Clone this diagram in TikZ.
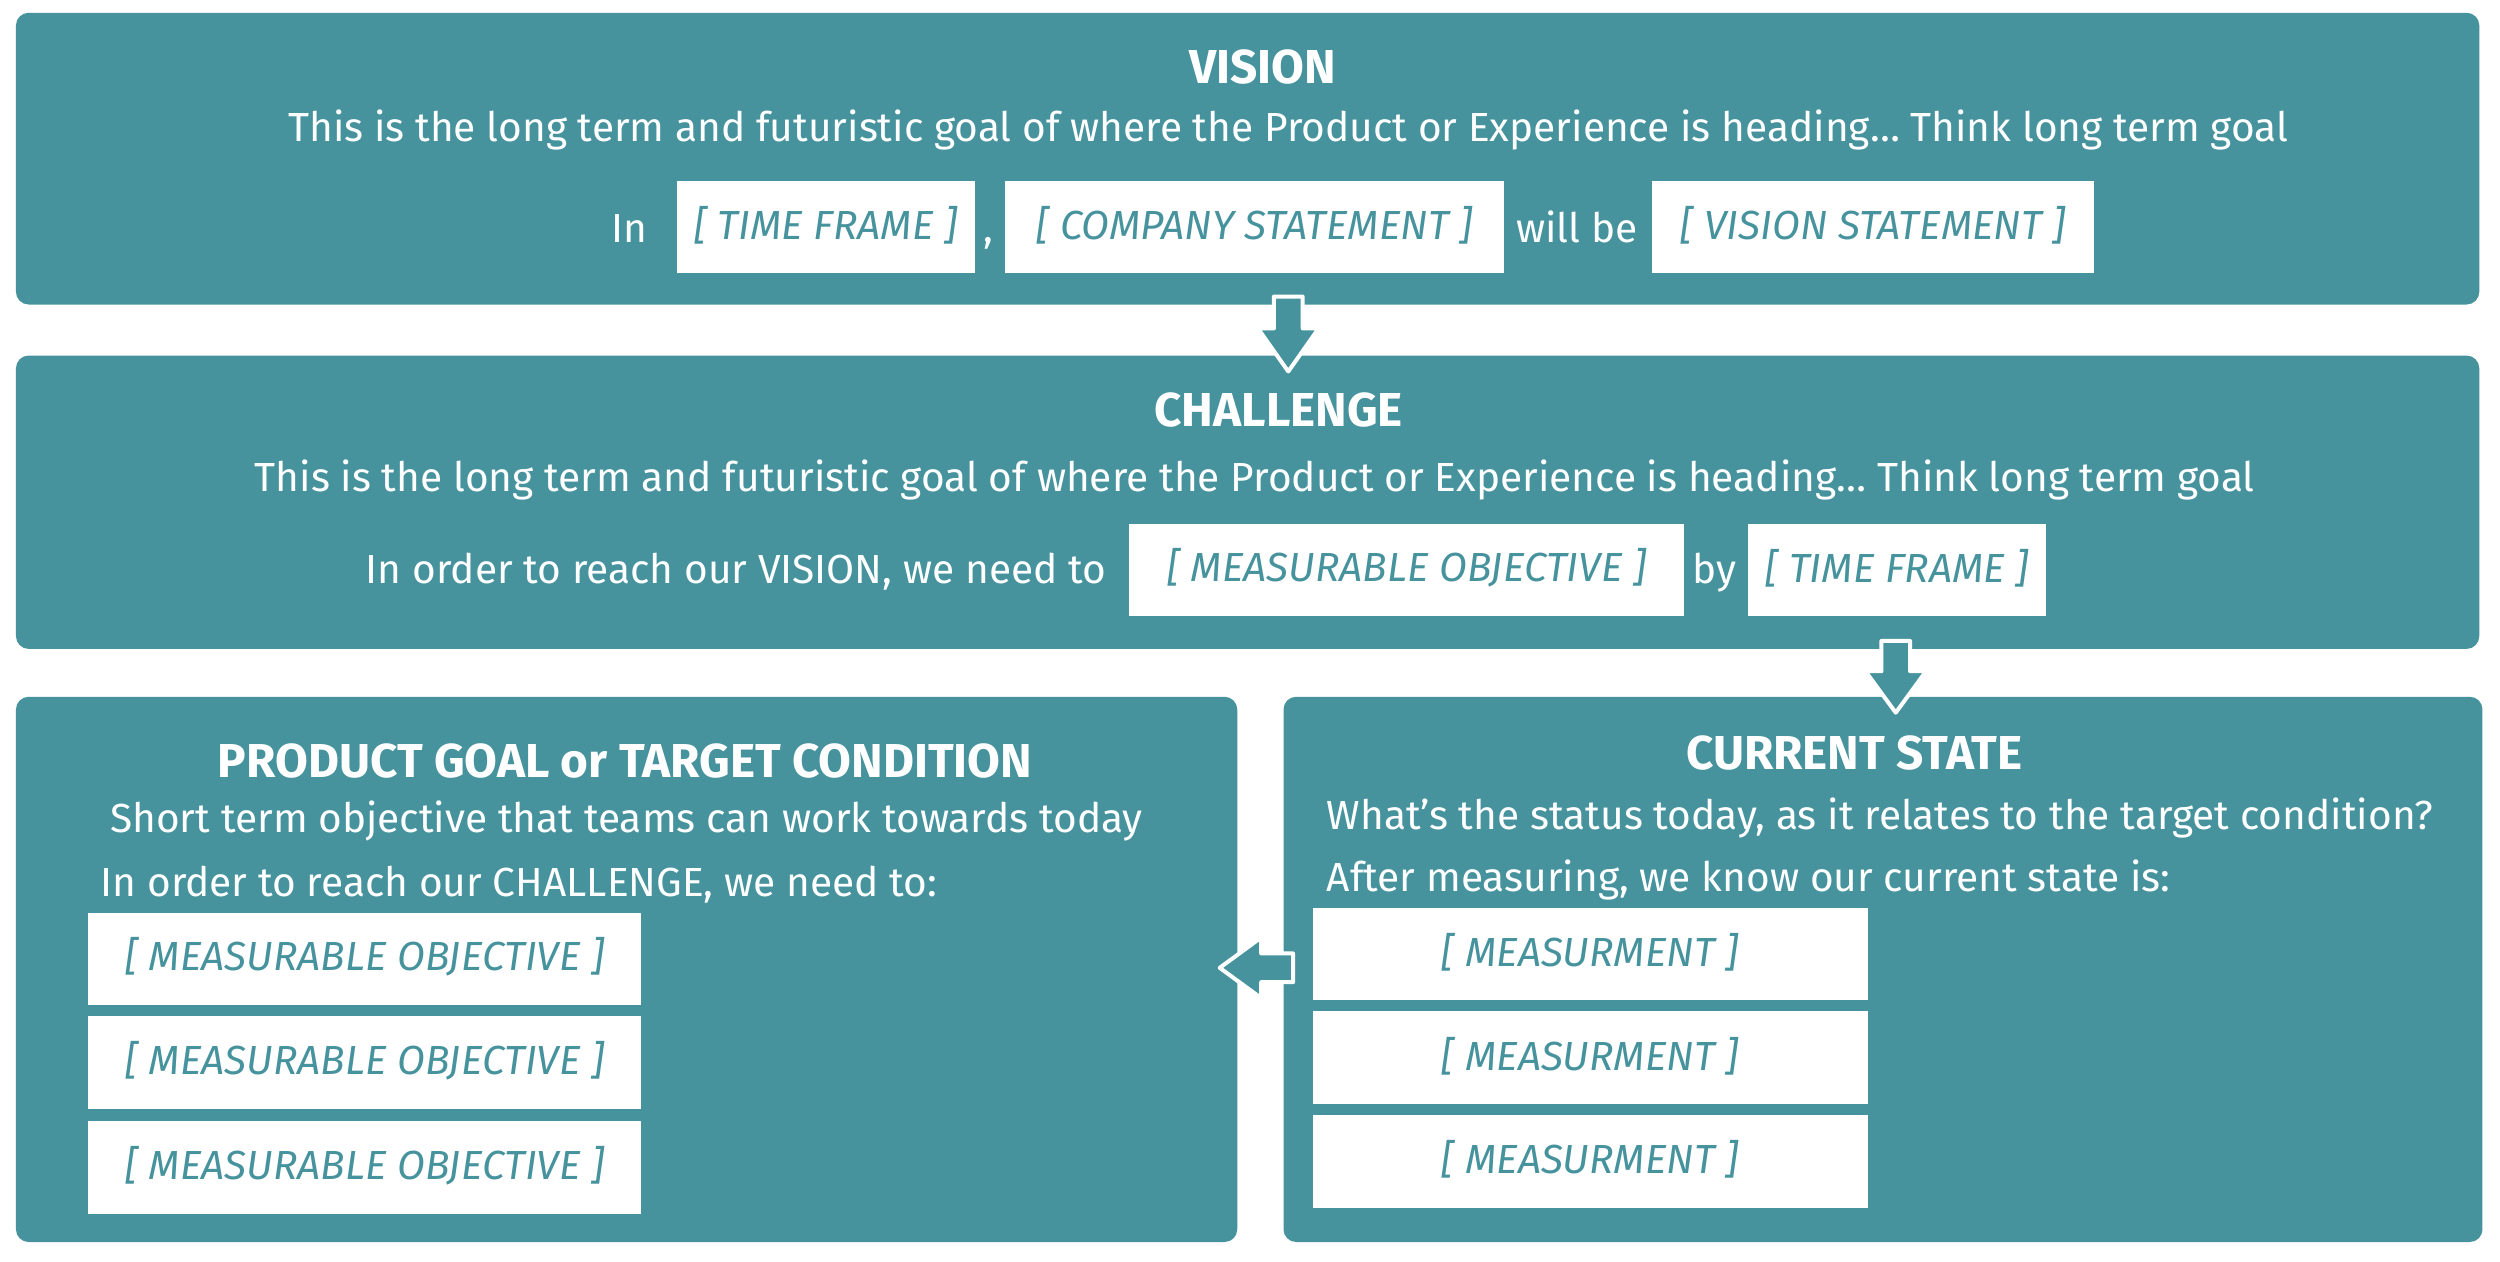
\documentclass[tikz,border=0pt]{standalone}
\usepackage{fontspec}
\setmainfont{Fira Sans}
\definecolor{teal1}{HTML}{46939E}
\begin{document}
\begin{tikzpicture}[x=0.02cm,y=-0.02cm,
  panel/.style={fill=teal1,rounded corners=0.16cm},
  ttl/.style={text=white,font=\fontsize{17}{20}\selectfont\bfseries,anchor=center},
  body/.style={text=white,font=\fontsize{14.5}{17}\selectfont,anchor=base},
  wbox/.style={fill=white,text=teal1,font=\fontsize{14.5}{17}\selectfont\itshape,anchor=north west,minimum height=1.16cm,inner xsep=0.14cm,align=left,text height=2ex},
  arr/.style={fill=teal1,draw=white,line width=0.05cm,line join=round}]
\useasboundingbox (0,0) rectangle (1568,791);
\fill[white] (0,0) rectangle (1568,791);
% panels
\path[panel] (10,8) rectangle (1555,191);
\path[panel] (10,223) rectangle (1555,407);
\path[panel] (10,437) rectangle (776,779);
\path[panel] (805,437) rectangle (1557,779);
% vision
\node[ttl] (vt) at (792,42) {VISION};
\node[body] (vl) at (808,89) {This is the long term and futuristic goal of where the Product or Experience is heading… Think long term goal};
\node[body,anchor=base east] (vin) at (412,152) {In};
\node[wbox,minimum width=3.74cm] (v1) at (424,113) {[ TIME FRAME ]};
\node[body] (vc) at (620,152) {,};
\node[wbox,minimum width=6.26cm] (v2) at (630,113) {[ COMPANY STATEMENT ]};
\node[body] (vw) at (989,152) {will be};
\node[wbox,minimum width=5.54cm] (v3) at (1036,113) {[ VISION STATEMENT ]};
% challenge
\node[ttl] (ct) at (802,257) {CHALLENGE};
\node[body] (cl) at (787,308) {This is the long term and futuristic goal of where the Product or Experience is heading… Think long term goal};
\node[body,anchor=base east] (cin) at (700,366) {In order to reach our VISION, we need to};
\node[wbox,minimum width=6.96cm] (c1) at (708,328) {[ MEASURABLE OBJECTIVE ]};
\node[body] (cby) at (1075,366) {by};
\node[wbox,minimum width=3.74cm] (c2) at (1096,328) {[ TIME FRAME ]};
% product goal
\node[ttl] (pt) at (392,477) {PRODUCT GOAL or TARGET CONDITION};
\node[body] (pl1) at (393,522) {Short term objective that teams can work towards today};
\node[body,anchor=base west] (pl2) at (57,562) {In order to reach our CHALLENGE, we need to:};
\node[wbox,minimum width=6.94cm] (p1) at (55,572) {[ MEASURABLE OBJECTIVE ]};
\node[wbox,minimum width=6.94cm] (p2) at (55,637) {[ MEASURABLE OBJECTIVE ]};
\node[wbox,minimum width=6.94cm] (p3) at (55,703) {[ MEASURABLE OBJECTIVE ]};
% current state
\node[ttl] (st) at (1163,472) {CURRENT STATE};
\node[body,anchor=base west] (sl1) at (826,520) {What’s the status today, as it relates to the target condition?};
\node[body,anchor=base west] (sl2) at (826,559) {After measuring, we know our current state is:};
\node[wbox,minimum width=6.96cm] (s1) at (823,569) {[ MEASURMENT ]};
\node[wbox,minimum width=6.96cm] (s2) at (823,634) {[ MEASURMENT ]};
\node[wbox,minimum width=6.96cm] (s3) at (823,699) {[ MEASURMENT ]};
% arrows
\draw[arr] (799,186) -- (817,186) -- (817,206) -- (827,206) -- (808,233) -- (789,206) -- (799,206) -- cycle;
\draw[arr] (1180,402) -- (1198,402) -- (1198,421) -- (1208,421) -- (1189,447) -- (1170,421) -- (1180,421) -- cycle;
\draw[arr] (811,598) -- (811,616) -- (791,616) -- (791,626) -- (765,607) -- (791,588) -- (791,598) -- cycle;
\end{tikzpicture}
\end{document}
